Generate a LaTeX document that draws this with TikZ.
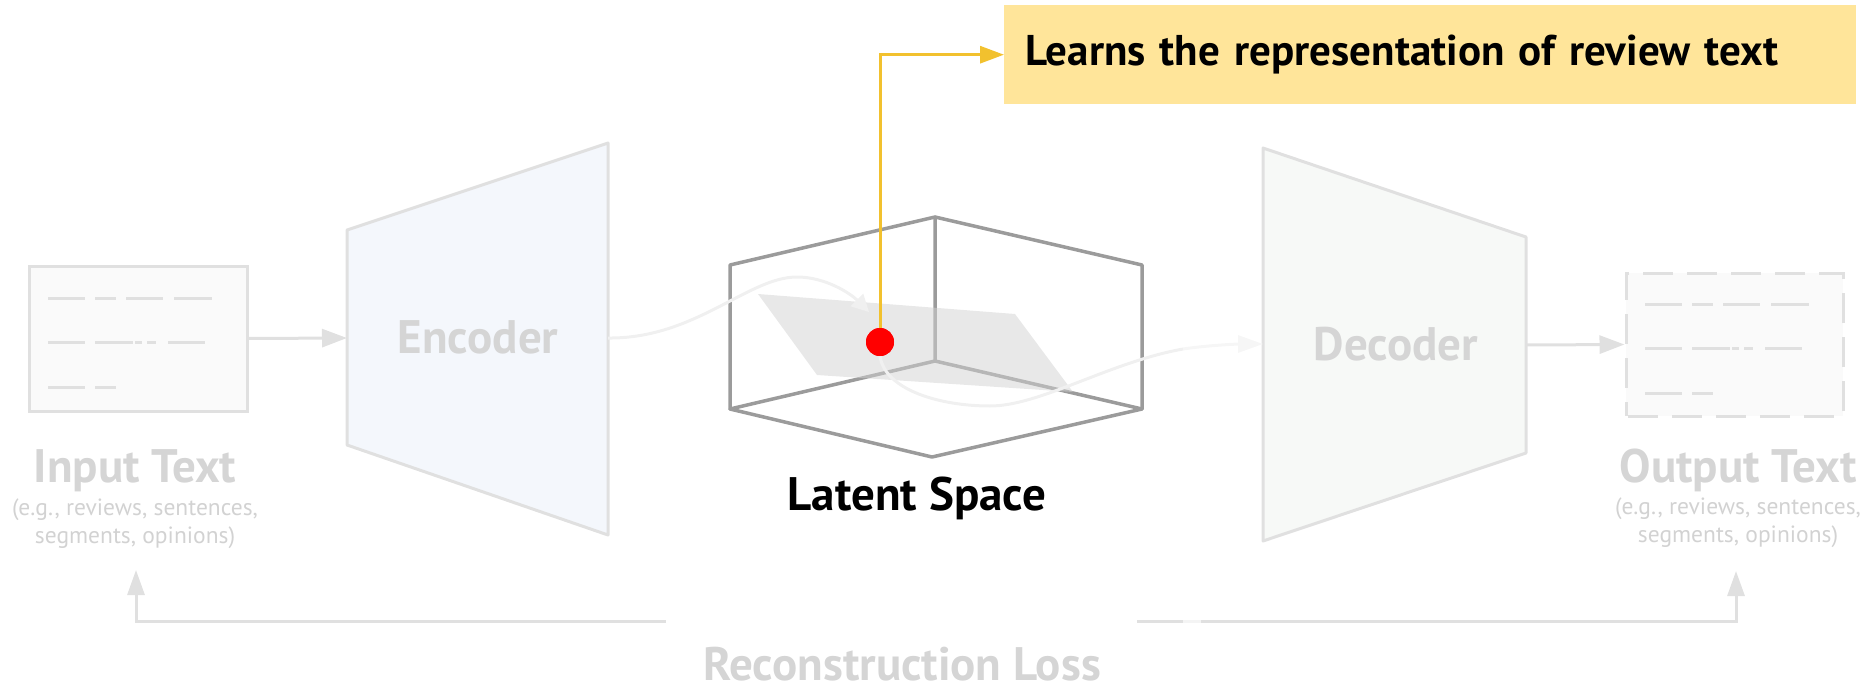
\documentclass[tikz,border=0pt]{standalone}
\usepackage{fontspec}
\setmainfont{PT Sans}
\usetikzlibrary{arrows.meta}

\definecolor{edgegray}{HTML}{E0E0E0}
\definecolor{boxfill}{HTML}{FAFAFA}
\definecolor{titlegray}{HTML}{D5D5D5}
\definecolor{subgray}{HTML}{D2D2D2}
\definecolor{encfill}{HTML}{F4F7FC}
\definecolor{decfill}{HTML}{F7F9F7}
\definecolor{cubegray}{HTML}{9B9B9B}
\definecolor{planegray}{HTML}{D2D2D2}
\definecolor{pathgray}{HTML}{F0F0F0}
\definecolor{notefill}{HTML}{FFE59A}
\definecolor{calloutyellow}{HTML}{F2C12E}

\begin{document}
\begin{tikzpicture}[x=1pt, y=-1pt,
  title/.style={font=\fontsize{47}{52}\selectfont\bfseries, text=titlegray, anchor=base, inner sep=0pt},
  sub/.style={font=\fontsize{23.5}{28}\selectfont, text=subgray, align=center},
  textbox/.style={draw=edgegray, fill=boxfill, line width=3pt, minimum width=218pt, minimum height=145pt, inner sep=0pt},
  scribble/.style={edgegray, line width=3pt},
  coder/.style={draw=edgegray, line width=3pt, line join=round},
  flow/.style={edgegray, line width=3pt, -{Triangle[length=25pt, width=18pt]}},
  latent/.style={pathgray, line width=3pt},
  cube/.style={cubegray, line width=3.5pt, line join=round, line cap=round},
  lossline/.style={edgegray, line width=3pt, -{Triangle[length=25pt, width=17pt]}},
  callout/.style={calloutyellow, line width=3pt, -{Triangle[length=24pt, width=17pt]}},
  notebox/.style={fill=notefill, anchor=north west, text width=810pt, inner xsep=21pt, minimum height=99pt, align=left, font=\fontsize{43}{48}\selectfont\bfseries}]

\useasboundingbox (0,0) rectangle (1868,685);

% input and output documents
\node[textbox] (input) at (138,338.5) {};
\node[textbox, dashed, dash pattern=on 30pt off 14pt, dash phase=-2pt, minimum width=217pt, minimum height=143pt] (output) at (1734.5,344.5) {};
\foreach \dx/\dy in {0/0, 1597/6}
  \foreach \a/\b/\y in {48/85/298, 95/116/298, 126/163/298, 174/212/298,
                        48/85/342, 95/133/342, 135/142/342, 147/156/342, 168/205/342,
                        48/85/387, 95/116/387}
    \draw[scribble] (\a+\dx,\y+\dy) -- (\b+\dx,\y+\dy);
\node[title] (intitle) at (135,482) {Input Text};
\node[sub] (insub) at (135,524) {(e.g., reviews, sentences,\\segments, opinions)};
\node[title] (outtitle) at (1738,482) {Output Text};
\node[sub] (outsub) at (1738,523) {(e.g., reviews, sentences,\\segments, opinions)};

% encoder and decoder
\draw[coder, fill=encfill] (347,230) -- (608,143) -- (608,535) -- (347,445) -- cycle;
\draw[coder, fill=decfill] (1263,148) -- (1526,237) -- (1526,453) -- (1263,541) -- cycle;
\node[title] (enc) at (478,353) {Encoder};
\node[title] (dec) at (1396,360) {Decoder};
\coordinate (enc in) at (347,338);
\coordinate (enc out) at (608,338);
\coordinate (dec in) at (1263,344);
\coordinate (dec out) at (1526,345);
\draw[flow] (input.east) -- (enc in);
\draw[flow] (dec out) -- (output.west);

% latent space box
\coordinate (tl) at (730,265);  \coordinate (tb) at (935,217);
\coordinate (tr) at (1142,265); \coordinate (bl) at (730,409);
\coordinate (br) at (1142,409); \coordinate (bf) at (932,457);
\coordinate (in) at (935,361);
\draw[cube] (bl) -- (tl) -- (tb) -- (tr) -- (br) -- (bf) -- cycle;
\draw[cube] (tb) -- (in) (bl) -- (in) -- (br);
\fill[planegray, opacity=0.5] (758,294) -- (1015,314) -- (1073,392) -- (817,375) -- cycle;
\node[title, text=black] (latentlabel) at (917,510) {Latent Space};

% path through the latent space
\coordinate (peak) at (797,277);
\coordinate (drop) at (869,312);
\coordinate (low) at (990,406);
\coordinate (rise) at (1183,349);
\node[circle, fill=red, minimum size=28pt, inner sep=0pt] (dot) at (880,342) {};
\draw[latent, -{Triangle[length=17pt, width=17pt]}] (enc out) .. controls (695,339) and (748,277) .. (peak)
  .. controls (825,277) and (850,293) .. (drop);
\draw[latent] (dot.south) .. controls (885,390) and (940,406) .. (low)
  .. controls (1040,406) and (1110,362) .. (rise);
\draw[latent, pathgray!60, -{Triangle[length=25pt, width=17pt]}] (rise) .. controls (1210,345) and (1240,344) .. (dec in);

% callout
\node[notebox] (note) at (1004,5) {Learns the representation of review text};
\draw[callout] (dot.center) |- (note.west);
\node[circle, fill=red, minimum size=28pt, inner sep=0pt] at (dot) {};

% reconstruction loss
\node[title] (loss) at (902,680) {Reconstruction Loss};
\coordinate (loss l) at (666,621);
\coordinate (loss r) at (1137,621);
\coordinate (in up) at (136,570);
\coordinate (out up) at (1736,571);
\draw[lossline] (loss l) -| (in up);
\draw[lossline] (loss r) -| (out up);
\draw[line width=3pt, color=edgegray!35] (1183,621) -- (1201,621);
\end{tikzpicture}
\end{document}
